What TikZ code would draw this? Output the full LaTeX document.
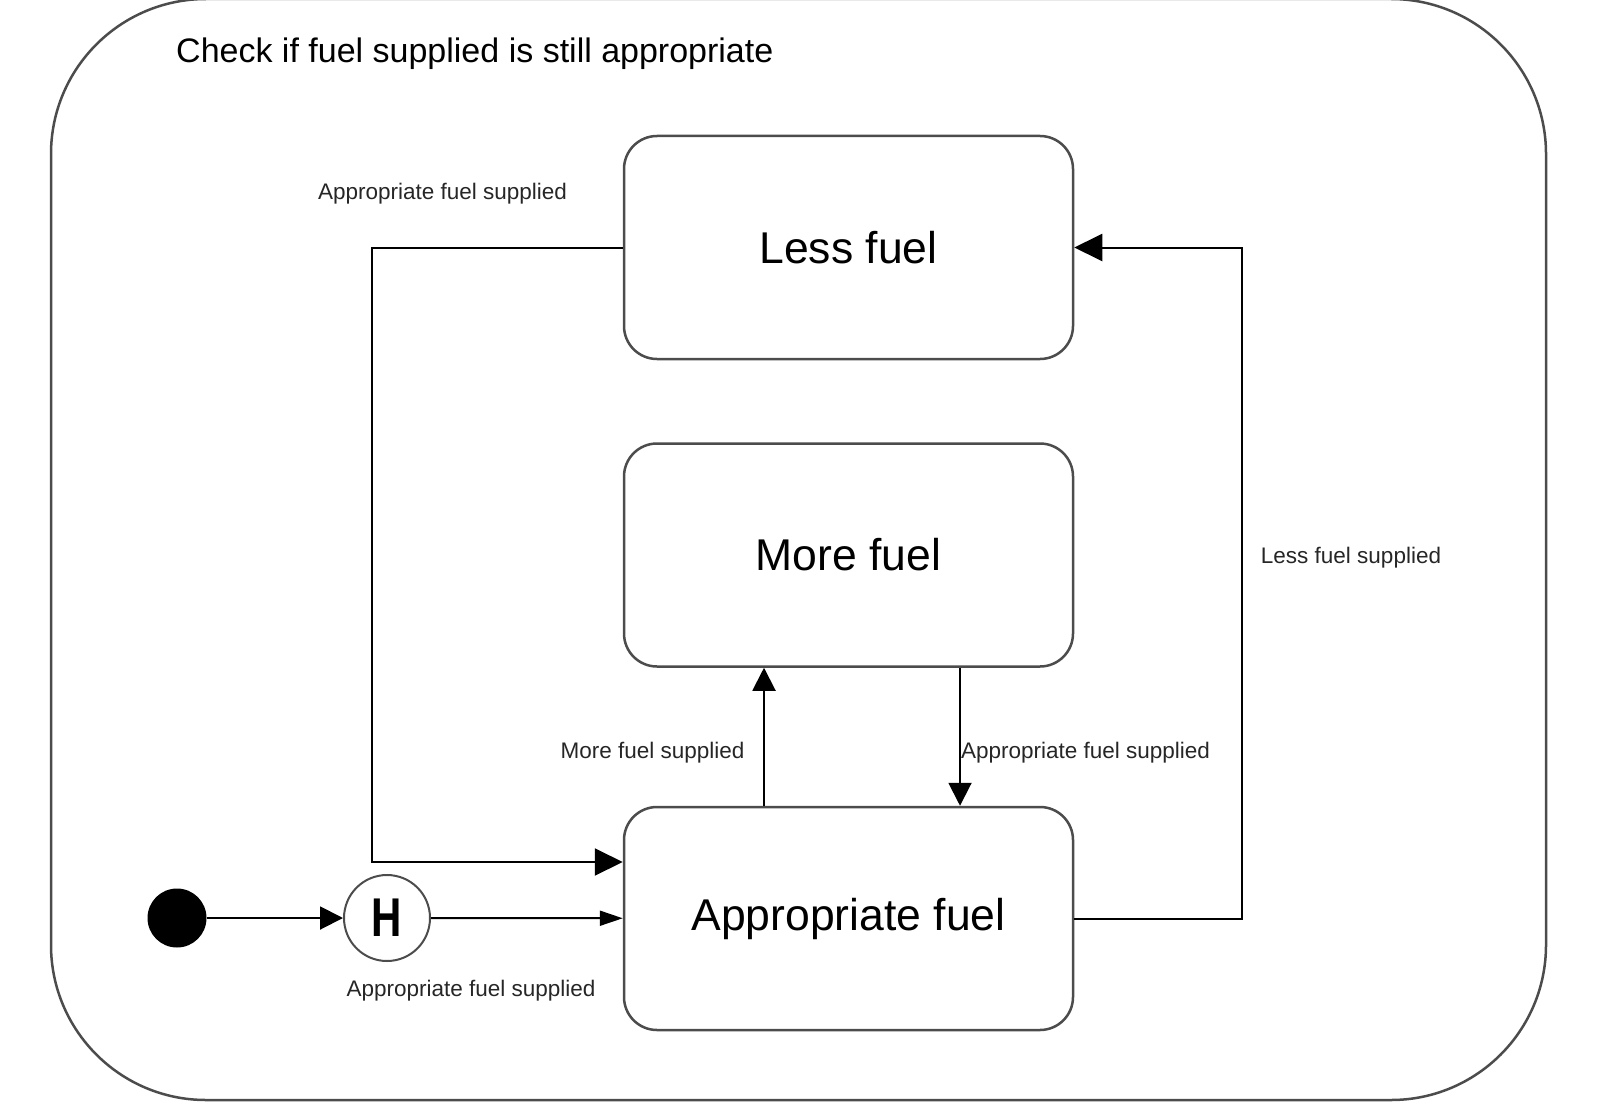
\documentclass[tikz,border=0pt]{standalone}
\usepackage{fontspec}
\setmainfont{Liberation Sans}
\usetikzlibrary{arrows.meta,positioning}

\begin{document}
\begin{tikzpicture}[x=1pt,y=-1pt,
  statebox/.style={draw=black!70,line width=2.5pt,rounded corners=33pt,
    minimum width=449pt,minimum height=223pt,inner sep=0pt,
    font=\fontsize{44.5}{50}\selectfont},
  trans/.style={line width=2pt,-{Triangle[length=28pt,width=27pt]}},
  transmid/.style={line width=2pt,-{Triangle[length=23pt,width=23pt]}},
  transsmall/.style={line width=2pt,-{Triangle[length=23pt,width=15pt]}},
  guard/.style={font=\fontsize{22.5}{26}\selectfont,text=black!85,inner sep=0pt}]
%%%%% Frame %%%%%
\useasboundingbox (0,0) rectangle (1605,1118);
\draw[black!70,line width=2.5pt,rounded corners=155pt] (51,-1) rectangle (1546,1100);
\node[anchor=west,inner sep=0pt,font=\fontsize{34}{40}\selectfont] (title) at (176,54)
  {Check if fuel supplied is still appropriate};

%%%%% States %%%%%
\node[statebox] (less) at (848.5,247.5) {Less fuel};
\node[statebox] (more) at (848.5,555) {More fuel};
\node[statebox] (appr) at (848.5,918.5) {Appropriate fuel};
\node[circle,fill=black,minimum size=59pt,inner sep=0pt] (init) at (177,918) {};
\node[circle,draw=black!70,line width=2pt,minimum size=86pt,inner sep=0pt,
  font=\fontsize{42}{42}\selectfont\bfseries] (hist) at (387,918) {\scalebox{1}[1.3]{H}};

%%%%% Transitions %%%%%
\draw[transmid] (init) -- (hist);
\draw[transsmall] (hist) -- (appr);
\draw[trans] (less.west) -- ++(-251,0) |- ([yshift=56.5pt]appr.west);
\draw[trans] (appr.east) -- ++(168,0) |- (less.east);
\draw[transmid] ([xshift=-84.5pt]appr.north) -- ([xshift=-84.5pt]more.south);
\draw[transmid] ([xshift=111.5pt]more.south) -- ([xshift=111.5pt]appr.north);

%%%%% Labels %%%%%
\node[guard] (g1) at (442.5,194) {Appropriate fuel supplied};
\node[guard] (g2) at (1351,558) {Less fuel supplied};
\node[guard] (g3) at (652.5,753) {More fuel supplied};
\node[guard] (g4) at (1085.5,753) {Appropriate fuel supplied};
\node[guard] (g5) at (471,991) {Appropriate fuel supplied};
\end{tikzpicture}
\end{document}
